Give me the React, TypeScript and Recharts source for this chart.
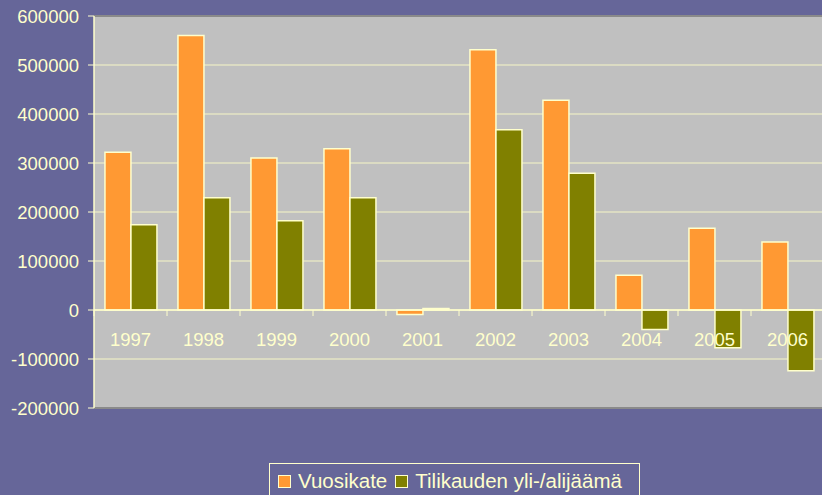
import { BarChart, Bar, XAxis, YAxis, CartesianGrid, ReferenceLine } from "recharts";

const years = ["1997", "1998", "1999", "2000", "2001", "2002", "2003", "2004", "2005", "2006"];
const vuosikate = [322000, 560000, 310000, 329000, -9000, 531000, 428000, 71000, 167000, 139000];
const tilikausi = [174000, 229000, 182000, 229000, 3000, 368000, 279000, -40000, -77000, -124000];
const yTicks = [-200000, -100000, 0, 100000, 200000, 300000, 400000, 500000, 600000];

const seriesNames = ["Vuosikate", "Tilikauden yli-/alijäämä"];
const seriesColors = ["#FF9933", "#808000"];

const data = years.map((y, i) => ({ year: y, v: vuosikate[i], t: tilikausi[i] }));

const BG = "#666699";
const TEXT = "#FFFFCC";
const FONT = "'Liberation Sans', Arial, sans-serif";

// plot geometry
const W = 830;
const H = 495;
const TOP = 16;
const LEFT = 94;
const RIGHT = 6;
const BOTTOM = 87;
const plotH = H - TOP - BOTTOM;
const band = (W - LEFT - RIGHT) / years.length;
const zeroY = TOP + (plotH * 600000) / 800000;

function YearTick(props: any) {
  const { x, payload } = props;
  return (
    <g>
      <line x1={x - band / 2} x2={x - band / 2} y1={zeroY} y2={zeroY + 6} stroke={TEXT} strokeWidth={1} />
      <text
        x={x}
        y={zeroY + 29}
        textAnchor="middle"
        dominantBaseline="central"
        fill={TEXT}
        fontSize={18.5}
        fontFamily={FONT}
      >
        {payload.value}
      </text>
    </g>
  );
}

export default function App() {
  return (
    <div
      style={{
        position: "absolute",
        left: 0,
        top: 0,
        width: 822,
        height: 495,
        overflow: "hidden",
        background: BG,
        fontFamily: FONT,
      }}
    >
      <BarChart
        width={W}
        height={H}
        data={data}
        margin={{ top: TOP, left: 0, right: RIGHT, bottom: BOTTOM - 10 }}
        barCategoryGap="15%"
        barGap={0}
      >
        <CartesianGrid vertical={false} stroke="#E4E4C4" strokeWidth={1.5} fill="#C0C0C0" />
        <ReferenceLine y={600000} stroke="#8A8A8A" strokeWidth={2} />
        <ReferenceLine y={-200000} stroke="#8A8A8A" strokeWidth={2} />
        <XAxis
          dataKey="year"
          axisLine={false}
          tickLine={false}
          tick={(p: any) => <YearTick {...p} />}
          height={10}
          interval={0}
        />
        <YAxis
          width={LEFT}
          domain={[-200000, 600000]}
          ticks={yTicks}
          interval={0}
          allowDataOverflow
          axisLine={{ stroke: TEXT, strokeWidth: 1.5 }}
          tickLine={{ stroke: TEXT }}
          tickSize={6}
          tickMargin={9}
          tick={{ fill: TEXT, fontSize: 18.5, fontFamily: FONT }}
        />
        <Bar dataKey="v" name={seriesNames[0]} fill={seriesColors[0]} stroke={TEXT} strokeWidth={1.5} isAnimationActive={false} />
        <Bar dataKey="t" name={seriesNames[1]} fill={seriesColors[1]} stroke={TEXT} strokeWidth={1.5} isAnimationActive={false} />
        <ReferenceLine y={0} stroke={TEXT} strokeWidth={1.5} />
      </BarChart>
      <div
        style={{
          position: "absolute",
          left: 269,
          top: 463,
          width: 371,
          height: 40,
          border: `1px solid ${TEXT}`,
          boxSizing: "border-box",
          display: "flex",
          alignItems: "flex-start",
          paddingTop: 6,
          paddingLeft: 8,
          color: TEXT,
          fontSize: 20.5,
          lineHeight: "22px",
          whiteSpace: "nowrap",
        }}
      >
        {seriesNames.map((n, i) => (
          <span key={n} style={{ display: "inline-flex", alignItems: "center", marginRight: 8 }}>
            <span
              style={{
                display: "inline-block",
                width: 11,
                height: 11,
                background: seriesColors[i],
                border: `1px solid ${TEXT}`,
                marginRight: 7,
              }}
            />
            {n}
          </span>
        ))}
      </div>
    </div>
  );
}
